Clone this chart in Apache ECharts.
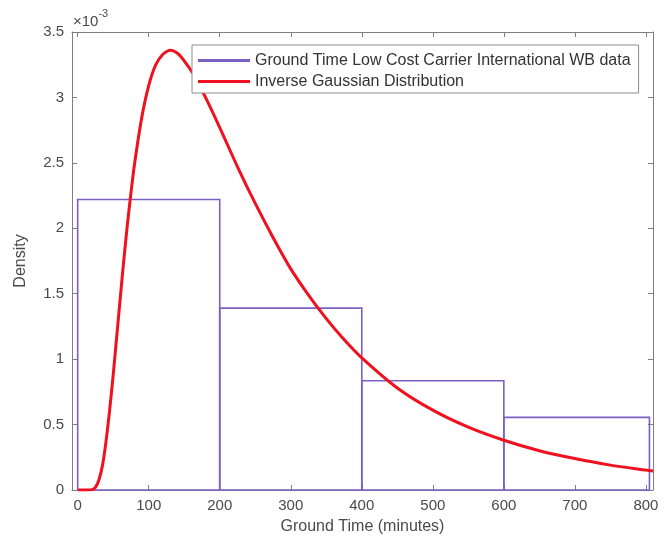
<!DOCTYPE html>
<html>
<head>
<meta charset="utf-8">
<script src="https://cdn.jsdelivr.net/npm/echarts@6/dist/echarts.min.js"></script>
<style>
html,body{margin:0;padding:0;background:#fff;}
#chart{width:672px;height:546px;}
</style>
</head>
<body>
<div id="chart"></div>
<script>
// Histogram (density, in units of 1e-3)
const binEdges = [0, 200, 400, 600, 805];
const binDensity = [2.22, 1.39, 0.835, 0.555];

// Inverse Gaussian curve (density in units of 1e-3)
const curveX = [0, 10, 20, 25, 30, 35, 40, 45, 50, 55, 60, 65, 70, 75, 80, 90, 100, 110, 120, 130, 140, 150, 165, 180, 200, 225, 250, 275, 300, 325, 350, 375, 400, 450, 500, 550, 600, 650, 700, 750, 800, 810];
const curveY = [0, 0, 0.003, 0.02, 0.078, 0.19, 0.375, 0.61, 0.88, 1.175, 1.47, 1.76, 2.03, 2.27, 2.49, 2.84, 3.09, 3.25, 3.33, 3.36, 3.34, 3.28, 3.16, 3.00, 2.77, 2.47, 2.19, 1.93, 1.69, 1.49, 1.31, 1.15, 1.01, 0.78, 0.61, 0.48, 0.38, 0.30, 0.24, 0.19, 0.152, 0.145];

const xTicks = [0, 100, 200, 300, 400, 500, 600, 700, 800];

const histName = 'Ground Time Low Cost Carrier International WB data';
const curveName = 'Inverse Gaussian Distribution';

const histData = binDensity.map((d, i) => [binEdges[i], binEdges[i + 1], d]);
const curveData = curveX.map((x, i) => [x, curveY[i]]);

const axisColor = '#7f7f7f';
const textColor = '#4a4a4a';
const purple = '#7b5fc2';
const red = '#f0101e';

const chart = echarts.init(document.getElementById('chart'));
chart.setOption({
  animation: false,
  backgroundColor: '#fff',
  textStyle: { fontFamily: 'Liberation Sans, Arial, sans-serif' },
  grid: { left: 72, right: 19, top: 32, bottom: 56 },
  graphic: [{
    type: 'text',
    left: 73,
    top: 8,
    style: {
      text: '{a|×10}{b|-3}',
      rich: {
        a: { fontSize: 15, fill: textColor, fontFamily: 'Liberation Sans, Arial, sans-serif', padding: [6, 0, 0, 0] },
        b: { fontSize: 11, fill: textColor, fontFamily: 'Liberation Sans, Arial, sans-serif', verticalAlign: 'top', padding: [0, 0, 6, 0] }
      }
    }
  }],
  legend: {
    orient: 'vertical',
    left: 192,
    top: 45,
    width: 448,
    selectedMode: false,
    backgroundColor: '#fff',
    borderColor: '#8c8c8c',
    borderWidth: 1,
    borderRadius: 0,
    padding: [7, 8, 3, 6],
    itemWidth: 52,
    itemHeight: 3,
    itemGap: 4,
    textStyle: { fontSize: 16, color: '#333', lineHeight: 17, fontFamily: 'Liberation Sans, Arial, sans-serif' },
    data: [
      { name: histName, icon: 'rect', itemStyle: { color: purple } },
      { name: curveName, icon: 'rect', itemStyle: { color: red } }
    ]
  },
  xAxis: [{
    type: 'value',
    min: -8,
    max: 810,
    name: 'Ground Time (minutes)',
    nameLocation: 'middle',
    nameGap: 29,
    nameTextStyle: { fontSize: 16, color: textColor },
    axisLine: { show: true, onZero: false, lineStyle: { color: axisColor, width: 1 } },
    axisTick: { show: true, inside: true, length: 5, customValues: xTicks, lineStyle: { color: axisColor } },
    axisLabel: { show: true, customValues: xTicks, fontSize: 15, color: textColor, margin: 8 },
    splitLine: { show: false }
  }, {
    type: 'value',
    position: 'top',
    min: -8,
    max: 810,
    axisLine: { show: true, onZero: false, lineStyle: { color: axisColor, width: 1 } },
    axisTick: { show: true, inside: true, length: 5, customValues: xTicks, lineStyle: { color: axisColor } },
    axisLabel: { show: false },
    splitLine: { show: false }
  }],
  yAxis: [{
    type: 'value',
    min: 0,
    max: 3.5,
    interval: 0.5,
    name: 'Density',
    nameLocation: 'middle',
    nameGap: 43,
    nameRotate: 90,
    nameTextStyle: { fontSize: 16, color: textColor },
    axisLine: { show: true, onZero: false, lineStyle: { color: axisColor, width: 1 } },
    axisTick: { show: true, inside: true, length: 5, lineStyle: { color: axisColor } },
    axisLabel: { fontSize: 15, color: textColor, margin: 8, formatter: v => String(Math.round(v * 10) / 10) },
    splitLine: { show: false }
  }, {
    type: 'value',
    position: 'right',
    min: 0,
    max: 3.5,
    interval: 0.5,
    axisLine: { show: true, onZero: false, lineStyle: { color: axisColor, width: 1 } },
    axisTick: { show: true, inside: true, length: 5, lineStyle: { color: axisColor } },
    axisLabel: { show: false },
    splitLine: { show: false }
  }],
  series: [{
    name: histName,
    type: 'custom',
    xAxisIndex: 0,
    yAxisIndex: 0,
    itemStyle: { color: purple },
    encode: { x: [0, 1], y: 2 },
    data: histData,
    renderItem: function (params, api) {
      const p0 = api.coord([api.value(0), 0]);
      const p1 = api.coord([api.value(1), api.value(2)]);
      return {
        type: 'rect',
        shape: { x: p0[0], y: p1[1], width: p1[0] - p0[0], height: p0[1] - p1[1] },
        style: { fill: 'none', stroke: purple, lineWidth: 1.6 }
      };
    },
    z: 2
  }, {
    name: curveName,
    type: 'line',
    xAxisIndex: 0,
    yAxisIndex: 0,
    data: curveData,
    showSymbol: false,
    smooth: 0.25,
    lineStyle: { color: red, width: 3 },
    itemStyle: { color: red },
    z: 3
  }]
});
</script>
</body>
</html>
